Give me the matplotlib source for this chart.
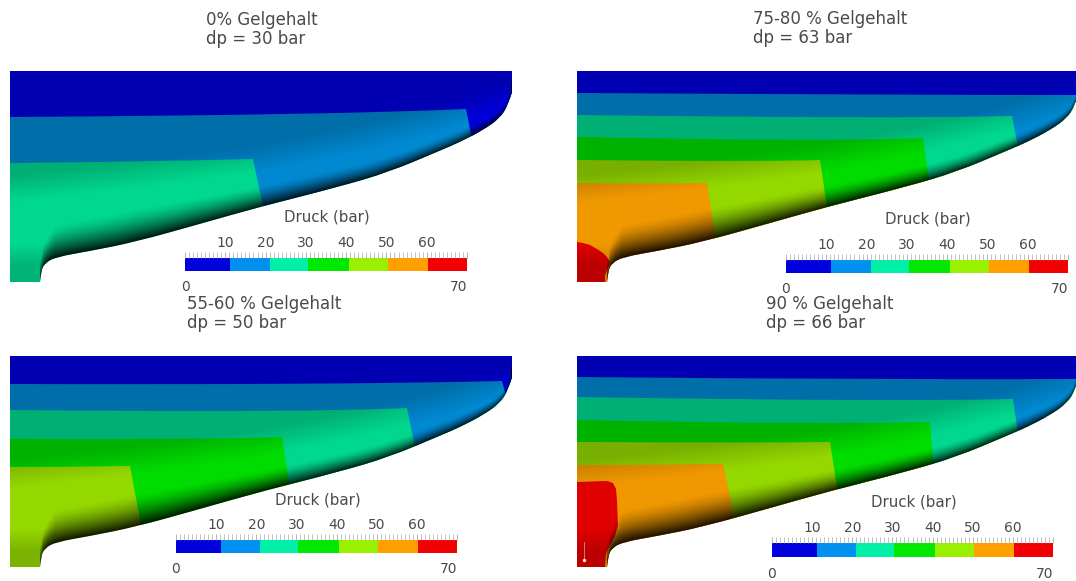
import numpy as np
import matplotlib
matplotlib.use("Agg")
import matplotlib.pyplot as plt
from matplotlib.patches import PathPatch
from matplotlib.path import Path

W, H = 1076, 581

# Pressure scale
LEVELS = [0, 10, 20, 30, 40, 50, 60]
BAR_EDGES = [0, 11.2, 21, 30.5, 40.7, 50.4, 60.3, 70]
BAR_COLORS = ["#0000dc", "#0090f0", "#00f0a8", "#00e800", "#99f000", "#ffa000", "#f00000"]
SURFACE_COLORS = ["#0000dc", "#0088d0", "#00d890", "#00dc00", "#94d800", "#f09800", "#e00000"]
TOP_LABELS = ["", "10", "20", "30", "40", "50", "60", ""]

# Nozzle wall (pixels from the panel's top-left corner)
WALL_X = [502, 502, 498, 490, 473, 450, 429, 379, 328, 253, 193, 125, 80, 46, 35, 31, 30]
WALL_Y = [0, 21, 34, 47, 59, 71, 80, 101, 116, 135, 152, 171, 180, 186, 192, 200, 211]
RIDGE_X = [0, 130, 243, 353, 435, 496, 510]
RIDGE_Y = [118, 103, 88, 66, 45, 24, 20]
SHADE_X = [30, 45, 125, 253, 379, 461, 502]
SHADE_W = [20, 34, 34, 22, 16, 12, 8]

# Isobar lines per panel: (value in bar, x list, y list)
P1_20 = (20, [0, 125, 243, 253, 258], [92, 91, 88, 135, 160])
P1_10 = (10, [0, 328, 456, 461, 466], [46, 44, 38, 63, 85])
P2_60 = (60, [0, 6, 13, 20, 26, 30, 33, 31, 28, 28], [171, 172, 174, 178, 182, 186, 191, 197, 204, 230])
P2_50 = (50, [0, 65, 130, 136, 140], [112, 113, 112, 152, 180])
P2_40 = (40, [0, 190, 243, 250, 253], [89, 91, 89, 136, 160])
P2_30 = (30, [0, 250, 346, 351, 355], [66, 71, 67, 102, 125])
P2_20 = (20, [0, 316, 435, 440, 445], [44, 48, 45, 71, 90])
P2_10 = (10, [0, 316, 496, 580, 650], [22, 24, 24, 24, 24])
P3_40 = (40, [0, 60, 120, 130, 134], [111, 111, 110, 164, 190])
P3_30 = (30, [0, 193, 272, 279, 283], [83, 84, 81, 126, 150])
P3_20 = (20, [0, 294, 397, 404, 408], [54, 57, 52, 86, 110])
P3_10 = (10, [0, 328, 492, 495, 500], [28, 29, 25, 36, 50])
P4_60 = (60, [0, 30, 36, 39, 40, 41, 38, 33, 29, 28, 28], [126, 125, 127, 133, 145, 169, 180, 189, 198, 209, 230])
P4_50 = (50, [0, 73, 146, 156, 160], [109, 109, 108, 154, 180])
P4_40 = (40, [0, 190, 253, 260, 265], [86, 87, 86, 131, 155])
P4_30 = (30, [0, 250, 353, 356, 360], [64, 69, 66, 102, 125])
P4_20 = (20, [0, 316, 436, 440, 445], [41, 46, 43, 71, 90])
P4_10 = (10, [0, 316, 496, 580, 650], [21, 24, 23, 23, 23])

PANEL_LINES = [
    [P1_20, P1_10],
    [P2_60, P2_50, P2_40, P2_30, P2_20, P2_10],
    [P3_40, P3_30, P3_20, P3_10],
    [P4_60, P4_50, P4_40, P4_30, P4_20, P4_10],
]
PANEL_ORIGIN = [(10, 71), (577, 71), (10, 356), (577, 356)]
TITLES_1 = ["0% Gelgehalt", "75-80 % Gelgehalt", "55-60 % Gelgehalt", "90 % Gelgehalt"]
TITLES_2 = ["dp = 30 bar", "dp = 63 bar", "dp = 50 bar", "dp = 66 bar"]
TITLE_POS = [(206, 20, 39), (753, 19, 38), (187, 304, 323), (766, 304, 323)]
# colour bar placement: left, right, bar top, bar bottom, title x, title y
BAR_BOX = [(185, 467, 258, 271, 327, 217), (786, 1068, 260, 273, 928, 219),
           (176, 457, 540, 553, 318, 500), (772, 1053, 543, 557, 914, 502)]

TEXT = "#4a4a4a"
plt.rcParams["font.family"] = "DejaVu Sans"
fig = plt.figure(figsize=(W / 100, H / 100), dpi=100, facecolor="white")
ax = fig.add_axes([0, 0, 1, 1])


def outline_path():
    """Panel outline: straight top and base, wall smoothed with quadratic segments."""
    verts = [(0, 0), (WALL_X[0], WALL_Y[0]), (WALL_X[1], WALL_Y[1])]
    codes = [Path.MOVETO, Path.LINETO, Path.LINETO]
    for k in range(2, len(WALL_X) - 2):
        end = ((WALL_X[k] + WALL_X[k + 1]) / 2, (WALL_Y[k] + WALL_Y[k + 1]) / 2)
        verts += [(WALL_X[k], WALL_Y[k]), end]
        codes += [Path.CURVE3, Path.CURVE3]
    verts += [(WALL_X[-2], WALL_Y[-2]), (WALL_X[-1], WALL_Y[-1])]
    codes += [Path.CURVE3, Path.CURVE3]
    verts += [(0, WALL_Y[-1]), (0, 0)]
    codes += [Path.LINETO, Path.CLOSEPOLY]
    return Path(verts, codes)


def band_path(value, xs, ys, ox, oy):
    """Region on the low-pressure side of one isobar."""
    if value == 60:
        verts = list(zip(xs, ys))
        codes = [Path.MOVETO] + [Path.LINETO] * (len(xs) - 1)
    else:
        verts = list(zip(xs, ys))
        codes = [Path.MOVETO, Path.CURVE3, Path.CURVE3] + [Path.LINETO] * (len(xs) - 3)
    verts += [(660, ys[-1]), (660, -5), (-5, -5), (-5, ys[0]), (xs[0], ys[0])]
    codes += [Path.LINETO] * 4 + [Path.CLOSEPOLY]
    return Path(np.array(verts, float) + (ox, oy), codes)


def shading():
    """Black alpha layer: muted flat face above the ridge, dark rim along the wall."""
    xx, yy = np.meshgrid(np.arange(0, 503.0), np.arange(0, 212.0))
    ridge = np.interp(xx, RIDGE_X, RIDGE_Y)
    a_flat = 0.19 * np.clip((ridge - yy + 14) / 28, 0, 1)
    a_neck = 0.17 * np.clip((yy - 172) / 22, 0, 1)
    flat = outline_path().to_polygons(closed_only=False)[0]
    wall = flat[(flat[:, 1] < 211) & (flat[:, 0] >= 30)]
    wall = wall[np.argsort(wall[:, 0], kind="stable")]
    prof = np.interp(xx, wall[:, 0], wall[:, 1])
    width = np.interp(xx, SHADE_X, SHADE_W)
    a_rim = 0.92 * np.clip(1 - (prof - yy) / width, 0, 1) ** 1.5
    a_rim[xx < 30] = 0
    alpha = 1 - (1 - a_flat) * (1 - a_neck) * (1 - a_rim)
    rgba = np.zeros(alpha.shape + (4,))
    rgba[..., 3] = alpha
    return rgba


SHADE = shading()
OUTLINE = outline_path()

for i, (ox, oy) in enumerate(PANEL_ORIGIN):
    shifted = Path(OUTLINE.vertices + (ox, oy), OUTLINE.codes)
    lines = PANEL_LINES[i]
    base = LEVELS.index(lines[0][0])
    face = PathPatch(shifted, facecolor=SURFACE_COLORS[base], edgecolor="none", zorder=1)
    ax.add_patch(face)
    for j, (value, xs, ys) in enumerate(lines):
        band = PathPatch(band_path(value, xs, ys, ox, oy),
                         facecolor=SURFACE_COLORS[LEVELS.index(value) - 1],
                         edgecolor="none", zorder=2 + j)
        ax.add_patch(band)
        band.set_clip_path(shifted, ax.transData)
    im = ax.imshow(SHADE, extent=(ox, ox + 503, oy + 212, oy), origin="upper",
                   interpolation="bilinear", zorder=10, aspect="auto")
    im.set_clip_path(shifted, ax.transData)
    if i == 3:
        ax.plot([ox + 7, ox + 7], [oy + 186, oy + 202], color="#f08080", lw=0.6, zorder=11)
        ax.plot([ox + 7], [oy + 204], "o", ms=1.5, color="#ffe0c0", zorder=11)

    tx, ty1, ty2 = TITLE_POS[i]
    ax.text(tx, ty1, TITLES_1[i], fontsize=12, color=TEXT, va="center", ha="left", zorder=20)
    ax.text(tx, ty2, TITLES_2[i], fontsize=12, color=TEXT, va="center", ha="left", zorder=20)

    left, right, top, bottom, bx, by = BAR_BOX[i]
    ax.text(bx, by, "Druck (bar)", fontsize=10.8, color=TEXT, va="center", ha="center", zorder=20)
    cax = fig.add_axes([left / W, 1 - bottom / H, (right - left) / W, (bottom - top) / H])
    cax.barh([0.5] * len(LEVELS), np.diff(BAR_EDGES), left=BAR_EDGES[:-1], height=1,
             color=BAR_COLORS, edgecolor="none")
    cax.set_xlim(0, 70)
    cax.set_ylim(0, 1)
    cax.set_yticks([])
    for s in cax.spines.values():
        s.set_visible(False)
    cax.xaxis.tick_top()
    cax.set_xticks(range(0, 71, 10))
    cax.set_xticklabels(TOP_LABELS, fontsize=10, color=TEXT)
    cax.set_xticks(range(0, 71), minor=True)
    cax.tick_params(axis="x", which="major", length=4.5, width=0.6, color="#a8a8a8", pad=1.5)
    cax.tick_params(axis="x", which="minor", length=4.2, width=0.5, color="#a8a8a8")
    cax.patch.set_alpha(0)
    for v, lab in ((0, "0"), (70, "70")):
        cax.text(v, -1.25, lab, fontsize=10, color=TEXT, ha="right" if v else "center", va="center")

ax.set_xlim(0, W)
ax.set_ylim(H, 0)
ax.axis("off")
fig.savefig("out.png", dpi=100, facecolor="white")
